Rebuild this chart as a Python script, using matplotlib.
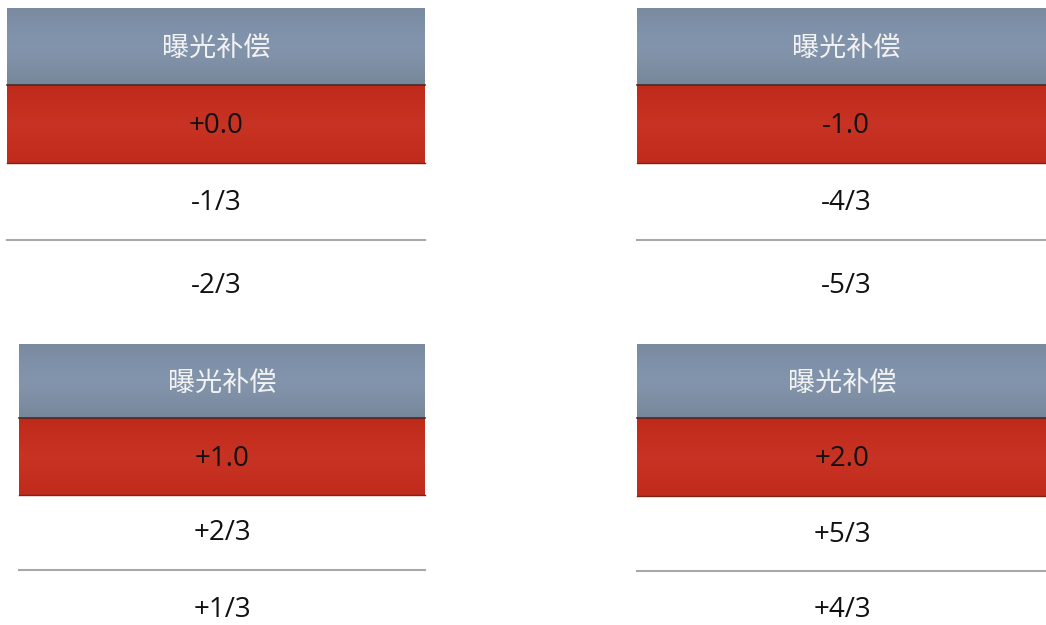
import numpy as np
import matplotlib
matplotlib.use("Agg")
import matplotlib.pyplot as plt
from matplotlib.colors import LinearSegmentedColormap

plt.rcParams['font.family'] = ['Noto Sans CJK SC', 'DejaVu Sans']

# ---- data ----
header_title = "曝光补偿"
selected_values = ["+0.0", "-1.0", "+1.0", "+2.0"]
second_values = ["-1/3", "-4/3", "+2/3", "+5/3"]
third_values = ["-2/3", "-5/3", "+1/3", "+4/3"]

# ---- layout (pixels) ----
W, H = 1046, 625
panels = [
    dict(x0=7, x1=425, top=8, hdr=85, sel=163, line=240, third=286, cx=216),
    dict(x0=637, x1=1046, top=8, hdr=85, sel=163, line=240, third=286, cx=846),
    dict(x0=19, x1=425, top=344, hdr=418, sel=495, line=570, third=610, cx=222),
    dict(x0=637, x1=1046, top=344, hdr=418, sel=496, line=571, third=610, cx=842),
]

fig = plt.figure(figsize=(W / 100, H / 100), dpi=100)
ax = fig.add_axes([0, 0, 1, 1])
ax.set_xlim(0, W)
ax.set_ylim(H, 0)
ax.axis('off')

hdr_cmap = LinearSegmentedColormap.from_list(
    'hdr', ['#7a8aa0', '#7f91a9', '#8395ad', '#7e8fa5', '#778799'])
red_cmap = LinearSegmentedColormap.from_list(
    'red', ['#c02a1a', '#c42e1e', '#c73324', '#c52f1f', '#bf2b1c'])

grad = np.linspace(0, 1, 64).reshape(-1, 1)
num_font = ['Open Sans', 'DejaVu Sans']

for i, p in enumerate(panels):
    x0, x1 = p['x0'], p['x1']
    ax.imshow(grad, cmap=hdr_cmap, aspect='auto',
              extent=[x0, x1, p['hdr'], p['top']], zorder=1, interpolation='bicubic')
    ax.imshow(grad, cmap=red_cmap, aspect='auto',
              extent=[x0, x1, p['sel'], p['hdr']], zorder=1, interpolation='bicubic')
    ax.plot([x0, x1], [p['hdr'], p['hdr']], color='#4a2a26', lw=1.2, zorder=2)
    ax.plot([x0, x1], [p['sel'], p['sel']], color='#7a2418', lw=1.0, zorder=2)
    ax.plot([x0, x1], [p['line'], p['line']], color='#a8a8a8', lw=1.5, zorder=2)

    cx = p['cx']
    ax.text(cx, (p['top'] + p['hdr']) / 2 + 2, header_title, color='#f2f2f2',
            fontsize=19.5, ha='center', va='center', zorder=3)
    ax.text(cx, (p['hdr'] + p['sel']) / 2 + 2, selected_values[i], color='#111111',
            fontsize=20, ha='center', va='center', zorder=3, family=num_font)
    ax.text(cx, (p['sel'] + p['line']) / 2 + 1, second_values[i], color='#111111',
            fontsize=20, ha='center', va='center', zorder=3, family=num_font)
    ax.text(cx, p['third'], third_values[i], color='#111111',
            fontsize=20, ha='center', va='center', zorder=3, family=num_font)

fig.savefig('out.png', dpi=100, facecolor='white')
